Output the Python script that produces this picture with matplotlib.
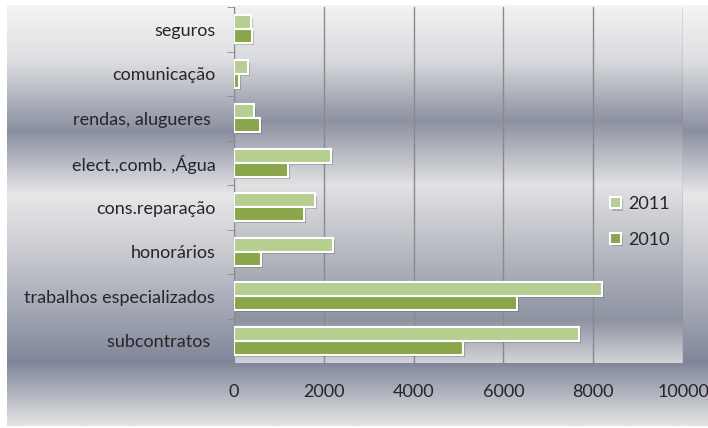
import numpy as np
import matplotlib
matplotlib.use('Agg')
import matplotlib.pyplot as plt
import matplotlib.patheffects as pe
from matplotlib.colors import LinearSegmentedColormap

# Cost categories (bottom to top) and yearly totals
categories = ['subcontratos ', 'trabalhos especializados', 'honorários', 'cons.reparação',
              'elect.,comb. ,Água', 'rendas, alugueres ', 'comunicação', 'seguros']
values_2011 = [7680, 8200, 2210, 1800, 2150, 450, 310, 380]
values_2010 = [5100, 6300, 600, 1560, 1200, 580, 110, 400]
x_ticks = [0, 2000, 4000, 6000, 8000, 10000]

plt.rcParams['font.family'] = ['Lato', 'DejaVu Sans']

fig = plt.figure(figsize=(7.08, 4.28), dpi=100)
W, H = 708, 428

# metallic background of the chart area
chart_cmap = LinearSegmentedColormap.from_list('chart', [
    (0.0, '#f4f4f4'), (0.13, '#dedfe2'), (0.30, '#8a8fa0'), (0.45, '#e8e8ea'),
    (0.60, '#c6c8ce'), (0.85, '#80869a'), (1.0, '#e4e4e4')])
bg = fig.add_axes([7 / W, 2 / H, 701 / W, 421 / H], zorder=0)
bg.imshow(np.linspace(0, 1, 256).reshape(-1, 1), cmap=chart_cmap, aspect='auto')
bg.axis('off')

ax = fig.add_axes([234 / W, 1 - 363 / H, 449 / W, 356 / H], zorder=1)
ax.set_facecolor('none')

# plot area has its own gradient
plot_cmap = LinearSegmentedColormap.from_list('plot', [
    (0.0, '#f2f2f2'), (0.15, '#d8d9dd'), (0.32, '#8c91a1'), (0.50, '#e2e2e4'),
    (0.70, '#b4b7c0'), (0.88, '#8e93a2'), (1.0, '#d2d3d8')])
n = len(categories)
ax.imshow(np.linspace(0, 1, 256).reshape(-1, 1), cmap=plot_cmap, aspect='auto',
          extent=[0, 10000, -0.5, n - 0.5], zorder=0)

y = np.arange(n)
h = 0.31
shadow = [pe.SimplePatchShadow(offset=(1.5, -1.5), alpha=0.25), pe.Normal()]
ax.barh(y + h / 2, values_2011, height=h, color='#b6ce8f', edgecolor='white',
        linewidth=1.5, label='2011', zorder=3, path_effects=shadow)
ax.barh(y - h / 2, values_2010, height=h, color='#89a74a', edgecolor='white',
        linewidth=1.5, label='2010', zorder=3, path_effects=shadow)

ax.set_xlim(0, 10000)
ax.set_ylim(-0.5, n - 0.5)
ax.set_xticks(x_ticks)
ax.set_xticklabels([str(t) for t in x_ticks])
ax.set_yticks(y)
ax.set_yticklabels(categories)
ax.set_yticks(np.arange(n + 1) - 0.5, minor=True)
ax.grid(axis='x', color='#8a8a8a', linewidth=1, zorder=1)
ax.set_axisbelow(True)

for side in ['top', 'right', 'bottom']:
    ax.spines[side].set_visible(False)
ax.spines['left'].set_color('#8a8a8a')
ax.spines['left'].set_zorder(2)

ax.tick_params(axis='y', which='major', length=0, pad=13.5, labelsize=13, labelcolor='#262626')
ax.tick_params(axis='y', which='minor', length=5, color='#8a8a8a')
ax.tick_params(axis='x', length=0, pad=15, labelsize=13, labelcolor='#262626')

ax.legend(loc='center', bbox_to_anchor=(640 / W, 1 - 222 / H), bbox_transform=fig.transFigure,
          frameon=False, fontsize=13, handlelength=0.6, handleheight=0.6,
          labelspacing=1.1, handletextpad=0.4, labelcolor='#262626')

fig.savefig('out.png', dpi=100)
